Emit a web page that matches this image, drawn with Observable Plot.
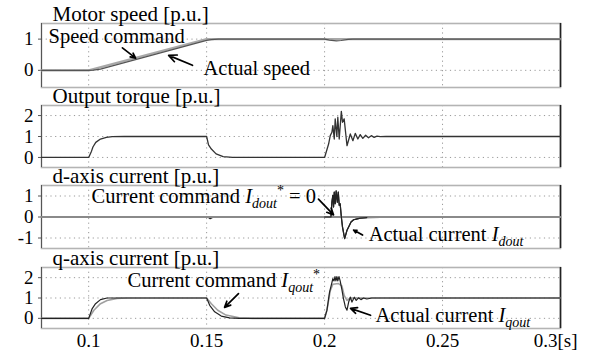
<!DOCTYPE html>
<html><head><meta charset="utf-8">
<script src="https://cdn.jsdelivr.net/npm/d3@7"></script>
<script src="https://cdn.jsdelivr.net/npm/@observablehq/plot@0.6"></script>
<style>
body{margin:0;background:#fff;}
#chart{position:relative;width:596px;height:356px;overflow:hidden;}
#chart svg{position:absolute;left:0;overflow:visible;background:transparent;}
#chart svg, #chart svg text, #chart svg tspan{font-family:"Liberation Serif","Times New Roman",serif;}
</style></head><body><div id="chart"></div>
<script>
// ---- data ----
const xDomain = [0.08, 0.3];
const xGrid = [0.1, 0.15, 0.2, 0.25];
const xTickLabels = [0.1, 0.15, 0.2, 0.25];
const lastTick = [0.3];
const titles = ["Motor speed [p.u.]", "Output torque [p.u.]", "d-axis current [p.u.]", "q-axis current [p.u.]"];

const speedCommand = [[0.08,0],[0.1,0],[0.15,1],[0.3,1]];
const actualSpeed = [[0.08,0],[0.1,0],[0.102,0.005],[0.105,0.04],[0.15,0.96],[0.152,0.985],[0.155,1],[0.2,1],[0.202,0.97],[0.205,0.945],[0.207,0.955],[0.21,0.99],[0.212,1],[0.3,1]];

const torque = [[0.08,0],[0.1,0],[0.1012,0.3],[0.1018,0.5],[0.103,0.72],[0.105,0.88],[0.1075,0.96],[0.11,0.99],[0.115,1],[0.15,1],[0.1503,0.85],[0.1508,0.6],[0.152,0.4],[0.154,0.17],[0.157,0.04],[0.161,0],[0.2,0],[0.2017,0.64],[0.2024,1.04],[0.2031,1.2],[0.2035,1.52],[0.2041,0.88],[0.2045,1.84],[0.2052,1.0],[0.2056,1.92],[0.2062,0.88],[0.2071,2.2],[0.2076,1.68],[0.2083,1.84],[0.2095,0.56],[0.2109,1.12],[0.212,0.8],[0.213,1.15],[0.2141,0.88],[0.2151,1.09],[0.2162,0.91],[0.2174,1.06],[0.2186,0.94],[0.2198,1.04],[0.221,0.96],[0.2222,1.02],[0.2236,0.99],[0.226,1],[0.3,1]];

const dCommand = [[0.08,0],[0.3,0]];
const dActual = [[0.08,0],[0.15,0],[0.1508,-0.02],[0.1515,-0.08],[0.1525,-0.02],[0.154,0],[0.2,0],[0.2027,0],[0.2031,0.71],[0.2035,1.03],[0.2038,0.48],[0.2041,1.19],[0.2045,0.63],[0.2049,1.24],[0.2054,0.71],[0.2058,1.19],[0.2062,0.56],[0.2066,0.63],[0.2071,0],[0.2076,-0.48],[0.2085,-1.03],[0.2095,-0.63],[0.2105,-0.4],[0.2112,-0.24],[0.2123,-0.13],[0.2134,-0.1],[0.2151,-0.05],[0.2179,-0.03],[0.2236,-0.015],[0.235,0],[0.3,0]];

const qCommand = [[0.08,0],[0.1,0],[0.1022,0.4],[0.105,0.72],[0.1078,0.88],[0.112,0.98],[0.1162,1],[0.15,1],[0.152,0.72],[0.1547,0.4],[0.1582,0.16],[0.1638,0.03],[0.1694,0],[0.2,0],[0.201,0.4],[0.2024,1.36],[0.2035,1.68],[0.2059,1.71],[0.2073,1.6],[0.2083,1.13],[0.2095,0.88],[0.2109,1.0],[0.3,1]];
const qActual = [[0.08,0],[0.1,0],[0.1015,0.48],[0.1029,0.72],[0.105,0.92],[0.1078,1],[0.15,1],[0.1513,0.64],[0.1534,0.32],[0.1562,0.11],[0.1597,0.02],[0.1638,0],[0.2,0],[0.201,0.4],[0.2021,1.29],[0.2031,1.76],[0.2035,1.95],[0.204,1.84],[0.2044,2.05],[0.2048,1.84],[0.2052,2.05],[0.2056,1.84],[0.2061,2.05],[0.2066,1.84],[0.2073,1.44],[0.208,0.97],[0.2088,0.56],[0.2095,0.4],[0.2102,0.8],[0.2109,1.04],[0.2116,0.8],[0.2126,1.04],[0.2134,0.88],[0.2144,1.01],[0.2154,0.92],[0.2165,1],[0.2179,0.95],[0.22,1],[0.3,1]];

const speedNotes = [{t:0.083,v:0.86,seg:[["Speed command"]]},{t:0.1487,v:-0.16,seg:[["Actual speed"]]}];
const speedArrows = [[0.1143,0.72,0.1199,0.39],[0.144,0.16,0.1339,0.48]];
const dNotes = [{t:0.1012,v:0.69,seg:[["Current command "],["I","i"],["dout","sub"],["*","sup"],[" = 0"]]},{t:0.2187,v:-1.14,seg:[["Actual current "],["I","i"],["dout","sub"]]}];
const dArrows = [[0.1974,0.85,0.2038,0.1],[0.2161,-0.86,0.2123,-0.62]];
const qNotes = [{t:0.1165,v:1.56,seg:[["Current command "],["I","i"],["qout","sub"],["*","sup"]]},{t:0.2216,v:-0.2,seg:[["Actual current "],["I","i"],["qout","sub"]]}];
const qArrows = [[0.1635,1.22,0.1576,0.54],[0.2195,0.15,0.211,0.49]];

// ---- drawing ----
const FONT = "Liberation Serif";
const chart = document.getElementById("chart");

function line(data, stroke, w) {
  return Plot.line(data, {x: d => d[0], y: d => d[1], stroke, strokeWidth: w});
}
function notes(data) {
  return Plot.text(data, {x: "t", y: "v", text: d => d.seg.map(s => s[0]).join(""), textAnchor: "start", lineAnchor: "bottom", fontSize: 20.5, fontFamily: FONT, fill: "#000", className: "rich"});
}
function arrows(data) {
  return Plot.arrow(data, {x1: d => d[0], y1: d => d[1], x2: d => d[2], y2: d => d[3], stroke: "#000", strokeWidth: 1.7, headLength: 9, headAngle: 50});
}
function applyRich(svg, labels) {
  d3.select(svg).selectAll("g.rich text").each(function(_, i) {
    const lab = labels[i]; if (!lab) return;
    const el = d3.select(this); el.text(null);
    let cur = 0;
    for (const [txt, kind] of lab.seg) {
      const target = kind === "sub" ? 5 : kind === "sup" ? -8 : 0;
      const ts = el.append("tspan").text(txt);
      if (target !== cur) ts.attr("dy", target - cur);
      cur = target;
      if (kind === "i" || kind === "sub") ts.attr("font-style", "italic");
      if (kind === "sub" || kind === "sup") ts.attr("font-size", 14);
    }
  });
}

const panels = [
  {svgTop: 0, frameH: 64, yDomain: [-0.55, 1.5], yTicks: [0, 1],
   marks: [line(speedCommand, "#a8a8a8", 2.2), line(actualSpeed, "#555", 1.2), notes(speedNotes), arrows(speedArrows)], labels: speedNotes},
  {svgTop: 82, frameH: 62, yDomain: [-0.48, 2.48], yTicks: [0, 1, 2],
   marks: [line(torque, "#333", 1.3)], labels: []},
  {svgTop: 162, frameH: 63, yDomain: [-1.5, 1.5], yTicks: [-1, 0, 1],
   marks: [line(dActual, "#222", 1.2), line(dCommand, "#8a8a8a", 1.8), line(dActual.filter(d => d[0] >= 0.2 && d[0] <= 0.22), "#222", 1.2), notes(dNotes), arrows(dArrows)], labels: dNotes},
  {svgTop: 244, frameH: 61, yDomain: [-0.5, 2.5], yTicks: [0, 1, 2], bottom: true,
   marks: [line(qCommand, "#a0a0a0", 1.6), line(qActual, "#222", 1.2), notes(qNotes), arrows(qArrows)], labels: qNotes}
];

panels.forEach((p, i) => {
  const mt = 23, mb = p.bottom ? 33 : 1;
  const marks = [
    Plot.ruleY(p.yTicks, {stroke: "#999", strokeDasharray: "1.2,3.5", strokeWidth: 1}),
    Plot.ruleX(xGrid, {stroke: "#999", strokeDasharray: "1.2,3.5", strokeWidth: 1}),
    Plot.frame({stroke: "#b4b4b4", strokeWidth: 1.6}),
    Plot.ruleX([xDomain[1]], {stroke: "#222", strokeWidth: 1.6}),
    Plot.ruleX([xDomain[0]], {stroke: "#555", strokeWidth: 1}),
    Plot.axisY({ticks: p.yTicks, tickSize: 3, tickPadding: 5, tickFormat: d => String(d), fontSize: 19, label: null, stroke: "#555"}),
    ...p.marks,
    Plot.text([titles[i]], {frameAnchor: "top-left", dx: 11, dy: -3, lineAnchor: "bottom", textAnchor: "start", fontSize: 21, fontFamily: FONT, fill: "#000"})
  ];
  if (p.bottom) {
    marks.push(Plot.axisX({ticks: xTickLabels, tickSize: 0, tickPadding: 5, tickFormat: d => String(d), fontSize: 19, label: null}));
    marks.push(Plot.text(lastTick, {x: d => d, text: () => "0.3[s]", frameAnchor: "bottom", textAnchor: "end", lineAnchor: "top", dx: 17, dy: 5, fontSize: 19, fontFamily: FONT, fill: "#000"}));
  }
  const svg = Plot.plot({
    width: 596, height: mt + p.frameH + mb,
    marginTop: mt, marginBottom: mb, marginLeft: 41, marginRight: 36,
    style: {fontFamily: FONT, fontSize: "19px", background: "transparent", overflow: "visible", color: "#000"},
    x: {domain: xDomain, axis: null},
    y: {domain: p.yDomain, axis: null},
    marks
  });
  svg.style.top = p.svgTop + "px";
  applyRich(svg, p.labels);
  chart.appendChild(svg);
});
</script></body></html>
